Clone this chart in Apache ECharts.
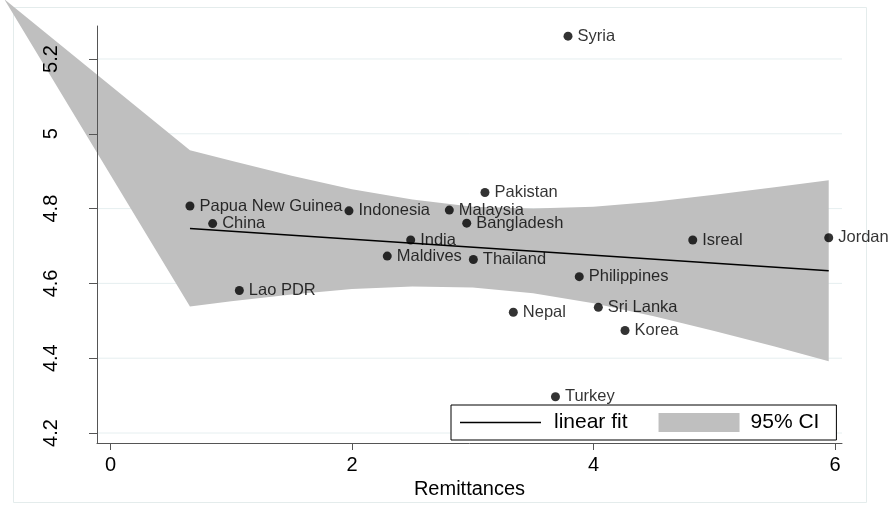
<!DOCTYPE html>
<html><head><meta charset="utf-8">
<script src="https://cdn.jsdelivr.net/npm/echarts@6/dist/echarts.min.js"></script>
<style>html,body{margin:0;padding:0;background:#fff}#c{width:894px;height:510px}</style>
</head><body><div id="c"></div>
<script>
// ---- data ----
const countries = ['Papua New Guinea','China','Lao PDR','Indonesia','Maldives','India','Malaysia','Bangladesh','Thailand','Pakistan','Nepal','Syria','Turkey','Philippines','Sri Lanka','Korea','Isreal','Jordan'];
const remittances = [0.658, 0.846, 1.067, 1.975, 2.292, 2.486, 2.806, 2.950, 3.005, 3.101, 3.336, 3.789, 3.685, 3.882, 4.040, 4.261, 4.822, 5.948];
const outcome = [4.807, 4.760, 4.581, 4.794, 4.673, 4.716, 4.796, 4.761, 4.664, 4.843, 4.523, 5.261, 4.297, 4.618, 4.536, 4.474, 4.716, 4.722];
const fitX = [0.658, 5.948];
const fitY = [4.747, 4.634];
const ciX = [-0.88, 0.658, 1.0, 1.5, 2.0, 2.5, 3.0, 3.5, 4.0, 4.5, 5.0, 5.5, 5.948];
const ciUpper = [5.36, 4.956, 4.928, 4.888, 4.852, 4.824, 4.805, 4.800, 4.805, 4.818, 4.837, 4.857, 4.876];
const ciLower = [5.36, 4.538, 4.552, 4.570, 4.585, 4.592, 4.589, 4.574, 4.547, 4.512, 4.473, 4.431, 4.392];
const xTicks = [0, 2, 4, 6];
const yTicks = [4.2, 4.4, 4.6, 4.8, 5, 5.2];
const xName = 'Remittances';
const legendNames = ['linear fit', '95% CI'];

const FONT = '"Liberation Sans", Arial, sans-serif';
const chart = echarts.init(document.getElementById('c'), null, {renderer: 'canvas'});

const option = {
  animation: false,
  backgroundColor: '#ffffff',
  textStyle: {fontFamily: FONT},
  graphic: [{
    type: 'rect', silent: true, z: -10,
    shape: {x: 13.5, y: 7.5, width: 853, height: 495},
    style: {fill: 'none', stroke: '#e4ecec', lineWidth: 1}
  }],
  grid: {left: 97, right: 52, top: 26, bottom: 67},
  xAxis: {
    type: 'value', min: -0.1118, max: 6.058, z: 5,
    name: xName, nameLocation: 'middle', nameGap: 27,
    nameTextStyle: {fontSize: 20, color: '#000', fontFamily: FONT},
    axisLine: {show: true, onZero: false, lineStyle: {color: '#555', width: 1}},
    axisTick: {show: true, length: 7, customValues: xTicks, lineStyle: {color: '#555'}},
    axisLabel: {customValues: xTicks, fontSize: 20, color: '#000', margin: 12, fontFamily: FONT},
    splitLine: {show: false}
  },
  yAxis: {
    type: 'value', min: 4.1733, max: 5.2882, z: 5,
    axisLine: {show: true, onZero: false, lineStyle: {color: '#555', width: 1}},
    axisTick: {show: true, length: 8, customValues: yTicks, lineStyle: {color: '#555'}},
    axisLabel: {customValues: yTicks, fontSize: 20, color: '#000', rotate: 90, margin: 36, fontFamily: FONT},
    splitLine: {show: false}
  },
  legend: {
    left: 451, top: 405,
    padding: [7, 17, 7, 9],
    borderColor: '#000', borderWidth: 1, backgroundColor: '#fff',
    itemWidth: 81, itemHeight: 19, itemGap: 31,
    symbolKeepAspect: true,
    textStyle: {fontSize: 21, color: '#000', fontFamily: FONT, padding: [0, 0, 0, 8]},
    data: [
      {name: legendNames[0], icon: 'path://M0,0H80V1.5H0Z', itemStyle: {color: '#000'}},
      {name: legendNames[1], icon: 'rect', textStyle: {padding: [0, 0, 0, 6]}}
    ]
  },
  series: [
    {
      type: 'custom', name: 'grid', silent: true, z: 1, clip: false,
      data: yTicks.map(v => [0, v]),
      renderItem: (params, api) => {
        const cs = params.coordSys;
        const y = api.coord([0, api.value(1)])[1];
        return {type: 'line', shape: {x1: cs.x, y1: y, x2: cs.x + cs.width, y2: y},
                style: {stroke: '#e6eff0', lineWidth: 1}};
      }
    },
    {
      type: 'custom', name: legendNames[1], silent: true, z: 2, clip: false,
      itemStyle: {color: '#bfbfbf'},
      data: ciX.map((x, i) => [x, ciUpper[i], ciLower[i]]),
      renderItem: (params, api) => {
        if (params.dataIndex !== 0) return null;
        const pts = [];
        for (let i = 0; i < ciX.length; i++) pts.push(api.coord([ciX[i], ciUpper[i]]));
        for (let i = ciX.length - 1; i >= 0; i--) pts.push(api.coord([ciX[i], ciLower[i]]));
        return {type: 'polygon', shape: {points: pts}, style: {fill: '#bfbfbf'}};
      }
    },
    {
      type: 'line', name: legendNames[0], z: 6, symbol: 'none', silent: true,
      data: fitX.map((x, i) => [x, fitY[i]]),
      lineStyle: {color: '#000', width: 1.5},
      itemStyle: {color: '#000'}
    },
    {
      type: 'scatter', name: 'countries', z: 7, silent: true,
      symbol: 'circle', symbolSize: 9,
      itemStyle: {color: '#000'},
      data: countries.map((c, i) => ({name: c, value: [remittances[i], outcome[i]]})),
      label: {show: true, position: 'right', distance: 5, formatter: '{b}',
              fontSize: 16.5, color: '#000', fontFamily: FONT}
    }
  ]
};
chart.setOption(option);
</script>
</body></html>
